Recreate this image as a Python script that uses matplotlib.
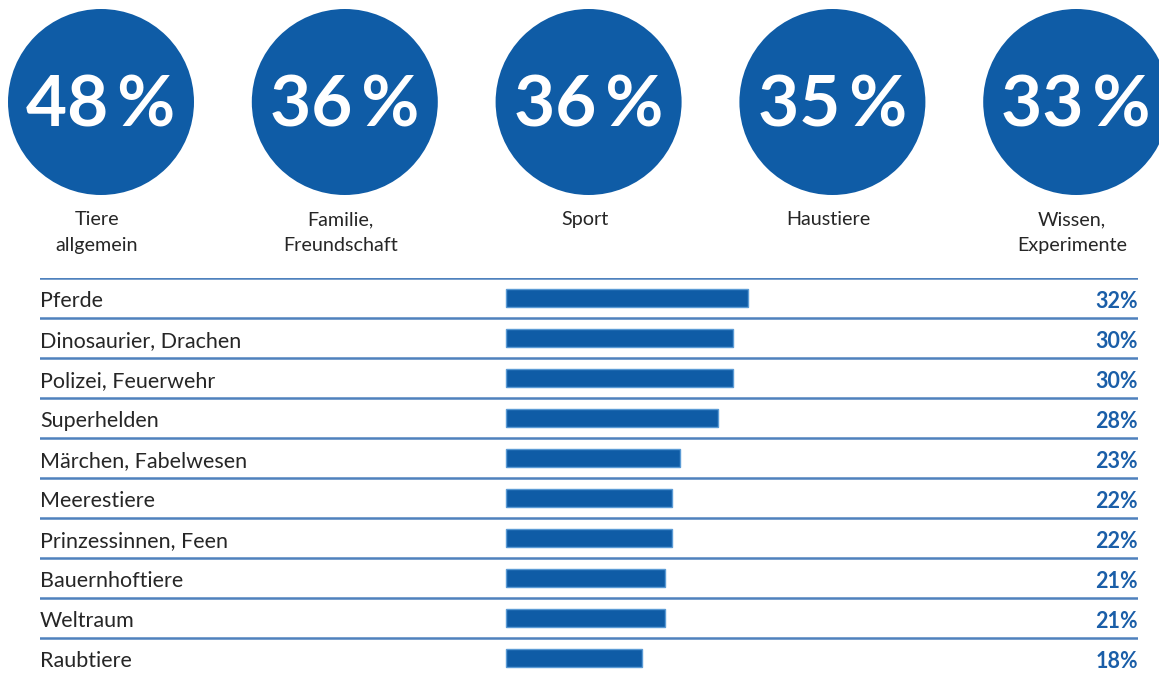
import matplotlib.pyplot as plt
from matplotlib.patches import Circle

# top circles
top_values = [48, 36, 36, 35, 33]
top_labels = ["Tiere\nallgemein", "Familie,\nFreundschaft", "Sport", "Haustiere", "Wissen,\nExperimente"]

# table rows
categories = ["Pferde", "Dinosaurier, Drachen", "Polizei, Feuerwehr", "Superhelden",
              "Märchen, Fabelwesen", "Meerestiere", "Prinzessinnen, Feen",
              "Bauernhoftiere", "Weltraum", "Raubtiere"]
values = [32, 30, 30, 28, 23, 22, 22, 21, 21, 18]

W, H = 1159, 675
BLUE = "#0f5ca6"
LINE = "#4f81bd"
TXT = "#262626"
plt.rcParams['font.family'] = ['Lato', 'DejaVu Sans']

fig = plt.figure(figsize=(W / 100, H / 100), dpi=100)

# circles in pixel coordinates
ax_top = fig.add_axes([0, 0, 1, 1])
ax_top.set_xlim(0, W)
ax_top.set_ylim(H, 0)
ax_top.axis("off")
for i, (v, lab) in enumerate(zip(top_values, top_labels)):
    cx = 101 + i * 243.8
    ax_top.add_patch(Circle((cx, 102), 93, color=BLUE, lw=0))
    ax_top.text(cx, 106, f"{v}\u2009%", color="white", fontsize=51, fontweight="bold",
                ha="center", va="center")
    ax_top.text(cx - 4, 211, lab, color=TXT, fontsize=14.2, ha="center", va="top",
                linespacing=1.65)

# table / bars
x0, x1 = 40, 1138
px_per_pct = 7.56
left_lim = -(506 - x0) / px_per_pct
right_lim = left_lim + (x1 - x0) / px_per_pct
y_top, y_bot = 278, 678
ax = fig.add_axes([x0 / W, (H - y_bot) / H, (x1 - x0) / W, (y_bot - y_top) / H])
ax.set_xlim(left_lim, right_lim)
ax.set_ylim(len(categories) - 0.5, -0.5)
ax.axis("off")

rows = range(len(categories))
ax.barh(list(rows), values, height=0.46, color=BLUE, edgecolor="#5b9bd5", linewidth=1)
for i in rows:
    ax.axhline(i - 0.5, color=LINE, lw=1.8)
    ax.text(0.0, i + 0.08, categories[i], transform=ax.get_yaxis_transform(), color=TXT,
            fontsize=15.5, ha="left", va="center")
    ax.text(1.0, i + 0.08, f"{values[i]}%", transform=ax.get_yaxis_transform(), color="#1a5ea8",
            fontsize=15.5, fontweight="bold", ha="right", va="center")

fig.savefig("out.png", dpi=100)
